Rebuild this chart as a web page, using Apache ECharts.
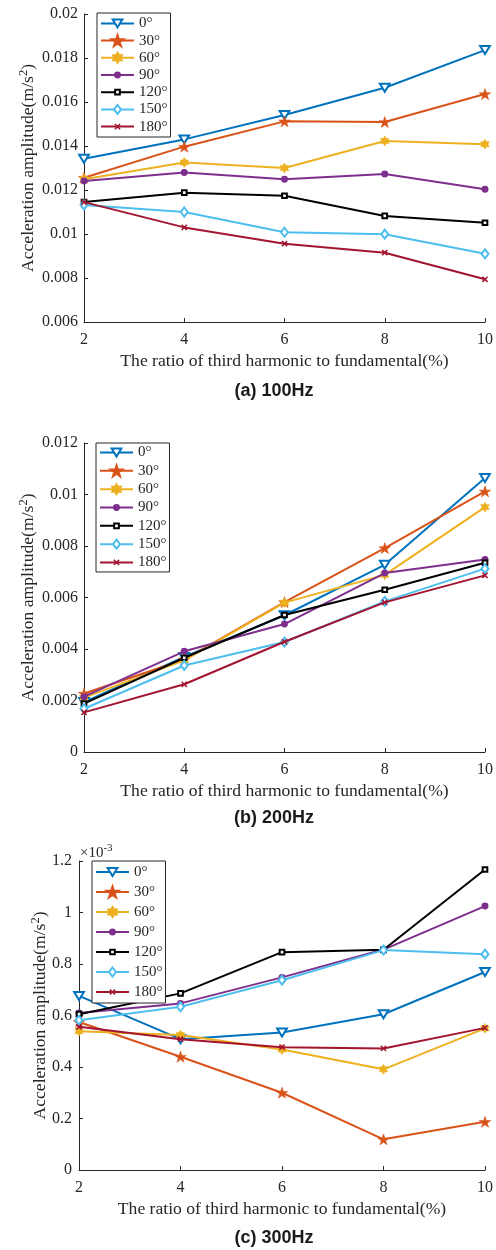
<!DOCTYPE html>
<html><head><meta charset="utf-8">
<script src="https://cdn.jsdelivr.net/npm/echarts@6/dist/echarts.min.js"></script>
<style>html,body{margin:0;padding:0;background:#fff}#c{width:496px;height:1250px}</style>
</head><body><div id="c"></div>
<script>
// ---- data ----
const ratio = [2, 4, 6, 8, 10];
const angleNames = ['0°', '30°', '60°', '90°', '120°', '150°', '180°'];
const captions = ['(a) 100Hz', '(b) 200Hz', '(c) 300Hz'];
const xName = 'The ratio of third harmonic to fundamental(%)';
// (a) 100 Hz, m/s^2
const hz100_0   = [0.01342, 0.01430, 0.01541, 0.01665, 0.01836];
const hz100_30  = [0.01256, 0.01397, 0.01512, 0.01509, 0.01636];
const hz100_60  = [0.01249, 0.01325, 0.01300, 0.01423, 0.01408];
const hz100_90  = [0.01241, 0.01280, 0.01249, 0.01273, 0.01203];
const hz100_120 = [0.01145, 0.01188, 0.01174, 0.01082, 0.01051];
const hz100_150 = [0.01132, 0.01100, 0.01008, 0.00999, 0.00910];
const hz100_180 = [0.01145, 0.01030, 0.00956, 0.00915, 0.00794];
// (b) 200 Hz, m/s^2
const hz200_0   = [0.00194, 0.00369, 0.00531, 0.00727, 0.01064];
const hz200_30  = [0.00227, 0.00359, 0.00582, 0.00792, 0.01012];
const hz200_60  = [0.00211, 0.00356, 0.00580, 0.00688, 0.00951];
const hz200_90  = [0.00215, 0.00391, 0.00497, 0.00695, 0.00748];
const hz200_120 = [0.00188, 0.00366, 0.00532, 0.00630, 0.00735];
const hz200_150 = [0.00168, 0.00336, 0.00427, 0.00585, 0.00712];
const hz200_180 = [0.00154, 0.00263, 0.00428, 0.00581, 0.00686];
// (c) 300 Hz, in units of 1e-3 m/s^2
const hz300_0   = [0.676, 0.508, 0.534, 0.605, 0.769];
const hz300_30  = [0.575, 0.440, 0.300, 0.119, 0.187];
const hz300_60  = [0.539, 0.524, 0.468, 0.391, 0.550];
const hz300_90  = [0.610, 0.647, 0.748, 0.856, 1.025];
const hz300_120 = [0.605, 0.686, 0.846, 0.855, 1.167];
const hz300_150 = [0.582, 0.634, 0.737, 0.854, 0.838];
const hz300_180 = [0.556, 0.508, 0.477, 0.472, 0.552];
// y-axis ranges [min, max, interval]
const yRange100 = [0.006, 0.02, 0.002];
const yRange200 = [0, 0.012, 0.002];
const yRange300 = [0, 1.2, 0.2];

const panels = [
  [hz100_0, hz100_30, hz100_60, hz100_90, hz100_120, hz100_150, hz100_180],
  [hz200_0, hz200_30, hz200_60, hz200_90, hz200_120, hz200_150, hz200_180],
  [hz300_0, hz300_30, hz300_60, hz300_90, hz300_120, hz300_150, hz300_180]
];
const yRanges = [yRange100, yRange200, yRange300];

// ---- styles ----
const SERIF = '"Liberation Serif","Times New Roman",serif';
const TXT = '#262626';
const colors = ['#0072BD', '#D95319', '#EDB120', '#7E2F8E', '#000000', '#4DBEEE', '#A2142F'];
// marker paths live in a padded 100x100 box so legend and plot markers share one size
const PAD = 'M0 0 M100 100 ';
const symbols = [
  'emptyPath://' + PAD + 'M9.5 16.5 L90.5 16.5 L50 83.5 Z',
  'path://' + PAD + 'M50 4.78 L61.23 39.33 L97.55 39.33 L68.15 60.68 L79.4 95.23 L50 73.88 L20.6 95.23 L31.85 60.68 L2.45 39.33 L38.78 39.33 Z',
  'path://' + PAD + 'M50 8.5 L61.98 29.25 L85.94 29.25 L73.95 50 L85.94 70.75 L61.98 70.75 L50 91.5 L38.02 70.75 L14.06 70.75 L26.05 50 L14.06 29.25 L38.02 29.25 Z',
  'path://' + PAD + 'M21 50 A29 29 0 1 1 79 50 A29 29 0 1 1 21 50 Z',
  'emptyPath://' + PAD + 'M30.5 30.5 L69.5 30.5 L69.5 69.5 L30.5 69.5 Z',
  'emptyPath://' + PAD + 'M50 12.5 L79 50 L50 87.5 L21 50 Z',
  'path://' + PAD + 'M24 33 L33 24 L50 41 L67 24 L76 33 L59 50 L76 67 L67 76 L50 59 L33 76 L24 67 L41 50 Z'
];
const borderW = [0, 0.6, 0.6, 0, 0, 0, 0];
const LEG_H = 15;
const SYM = LEG_H * 0.8;

const grids = [
  {left: 84, top: 14, width: 402, height: 308},
  {left: 84, top: 443, width: 402, height: 309},
  {left: 79, top: 861, width: 407.5, height: 309}
];
const yNameGaps = [45, 45, 28];
const yLabelMargins = [6, 6, 7];
const legendBoxes = [
  {left: 97, top: 13, gap: 2.2, pad: 2.9},
  {left: 96, top: 443, gap: 3.33, pad: 2},
  {left: 92, top: 861, gap: 5, pad: 3.5}
];
const captionY = [391, 818, 1238];

const xAxes = [], yAxes = [], series = [], legends = [], graphics = [];
for (let p = 0; p < 3; p++) {
  xAxes.push({
    type: 'value', gridIndex: p, min: 2, max: 10, interval: 2,
    name: xName, nameLocation: 'middle', nameGap: 30, nameMoveOverlap: false,
    nameTextStyle: {fontFamily: SERIF, fontSize: 17.6, color: TXT},
    axisLine: {onZero: false, lineStyle: {color: TXT, width: 1}},
    axisTick: {inside: true, length: 4, lineStyle: {color: TXT}},
    axisLabel: {margin: 10, fontFamily: SERIF, fontSize: 16, color: TXT},
    splitLine: {show: false}
  });
  const r = yRanges[p];
  yAxes.push({
    type: 'value', gridIndex: p, min: r[0], max: r[1], interval: r[2],
    name: 'Acceleration amplitude(m/s{sup|2})', nameLocation: 'middle', nameGap: yNameGaps[p],
    nameMoveOverlap: false,
    nameTextStyle: {fontFamily: SERIF, fontSize: 17.6, color: TXT,
      rich: {sup: {fontFamily: SERIF, fontSize: 12.5, color: TXT, padding: [0, 0, 9, 0]}}},
    axisLine: {show: true, onZero: false, lineStyle: {color: TXT, width: 1}},
    axisTick: {show: true, inside: true, length: 4, lineStyle: {color: TXT}},
    axisLabel: {margin: yLabelMargins[p], fontFamily: SERIF, fontSize: 16, color: TXT,
      formatter: v => String(+v.toFixed(4))},
    splitLine: {show: false}
  });
  panels[p].forEach((vals, k) => {
    series.push({
      type: 'line', name: angleNames[k], xAxisIndex: p, yAxisIndex: p,
      data: ratio.map((x, i) => [x, vals[i]]),
      symbol: symbols[k], symbolSize: SYM, symbolKeepAspect: true,
      showAllSymbol: true,
      lineStyle: {color: colors[k], width: 2},
      itemStyle: {color: colors[k], borderColor: colors[k], borderWidth: borderW[k]},
      emphasis: {disabled: true}, z: 2 + k * 0.01
    });
  });
  const lb = legendBoxes[p];
  legends.push({
    orient: 'vertical', left: lb.left, top: lb.top,
    itemWidth: 33, itemHeight: LEG_H, itemGap: lb.gap,
    padding: [lb.pad, 3, lb.pad, 3],
    borderColor: TXT, borderWidth: 1, backgroundColor: '#fff', borderRadius: 0,
    textStyle: {fontFamily: SERIF, fontSize: 15, color: TXT},
    data: angleNames, selectedMode: false, z: 10
  });
  graphics.push({
    type: 'text', x: 274, y: captionY[p], z: 20,
    style: {text: captions[p], font: 'bold 18px "Liberation Sans", Arial, sans-serif',
      fill: '#1a1a1a', align: 'center', verticalAlign: 'middle', textAlign: 'center', textVerticalAlign: 'middle'}
  });
}
graphics.push({
  type: 'text', x: 80, y: 853, z: 20,
  style: {text: '×10{sup|-3}', font: '15px "Liberation Serif", serif', fill: TXT,
    verticalAlign: 'middle', textVerticalAlign: 'middle',
    rich: {sup: {fontSize: 11, fontFamily: SERIF, fill: TXT, padding: [0, 0, 9, 0]}}}
});

const chart = echarts.init(document.getElementById('c'), null, {renderer: 'canvas'});
chart.setOption({
  animation: false,
  backgroundColor: '#fff',
  grid: grids,
  xAxis: xAxes,
  yAxis: yAxes,
  legend: legends,
  series: series,
  graphic: graphics
});
</script>
</body></html>
